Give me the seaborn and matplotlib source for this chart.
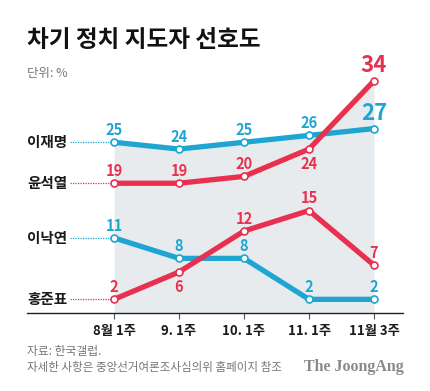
import numpy as np
import pandas as pd
import matplotlib
matplotlib.use("Agg")
import matplotlib.pyplot as plt
import seaborn as sns

# 데이터
weeks = ["8월 1주", "9. 1주", "10. 1주", "11. 1주", "11월 3주"]
names = ["이재명", "윤석열", "이낙연", "홍준표"]
lee_jm = [25, 24, 25, 26, 27]
yoon = [19, 19, 20, 24, 34]
lee_ny = [11, 8, 8, 2, 2]
hong = [2, 6, 12, 15, 7]

BLUE = "#1ea5d2"
RED = "#e8304f"
colors = {"이재명": BLUE, "윤석열": RED, "이낙연": BLUE, "홍준표": RED}
# 값 라벨을 점 아래에 둘 위치 (이름, 주 인덱스)
below = {("윤석열", 3), ("홍준표", 1)}

rows = []
for n, vals in zip(names, [lee_jm, yoon, lee_ny, hong]):
    for i, v in enumerate(vals):
        rows.append({"name": n, "idx": i, "week": weeks[i], "val": v})
df = pd.DataFrame(rows)

sns.set_style("white")
plt.rcParams["font.family"] = ["Noto Sans CJK KR", "DejaVu Sans"]

fig = plt.figure(figsize=(4.30, 3.91), dpi=100)
W, H = 430, 391
ax = fig.add_axes([27 / W, 78 / H, 376 / W, 253 / H])

# 회색 배경: 모든 선의 최대값 아래
xs = np.linspace(0, len(weeks) - 1, 801)
top = np.max([np.interp(xs, df[df.name == n].idx, df[df.name == n].val) for n in names], axis=0)
ax.fill_between(xs, 0, top, color="#e8ebee", lw=0, zorder=0)

for n in names:
    d = df[df.name == n]
    c = colors[n]
    sns.lineplot(data=d, x="idx", y="val", ax=ax, color=c, lw=3.8, marker="o",
                 markersize=5, markerfacecolor="white", markeredgecolor=c,
                 markeredgewidth=1.2, solid_capstyle="butt", zorder=3)
    last = len(d) - 1
    for _, r in d.iterrows():
        big = r.idx == last and n in ("이재명", "윤석열")
        if (n, r.idx) in below:
            ax.annotate(str(r.val), (r.idx, r.val), xytext=(0, -5), textcoords="offset points",
                        ha="center", va="top", color=c, fontsize=10.5, fontweight="bold")
        else:
            ax.annotate(str(r.val), (r.idx, r.val), xytext=(0, 2.5 if big else 3), textcoords="offset points",
                        ha="center", va="bottom", color=c,
                        fontsize=16 if big else 10.5, fontweight="bold")
    # 왼쪽 이름과 점선
    first = d.val.iloc[0]
    ax.text(-1.338, first, n, ha="left", va="center", fontsize=10.5, fontweight="bold", color="#1a1a1a")
    ax.plot([-0.68, -0.04], [first, first], ls=(0, (1, 1)), lw=0.9, color=c, zorder=2)

ax.set_xlim(-1.338, 4.446)
ax.set_ylim(0, 253 / 6.83)
ax.set_xticks(range(len(weeks)))
ax.set_xticklabels(weeks, fontsize=9.5, fontweight="bold", color="#1a1a1a")
ax.set_yticks([])
ax.set_xlabel("")
ax.set_ylabel("")
for s in ["top", "right", "left"]:
    ax.spines[s].set_visible(False)
ax.spines["bottom"].set_color("#222222")
ax.spines["bottom"].set_linewidth(1.0)
ax.tick_params(axis="x", length=4, width=0.8, color="#555555", pad=4, bottom=True)
ax.patch.set_alpha(0)

fig.text(27 / W, 1 - 40 / H, "차기 정치 지도자 선호도", fontsize=17, fontweight="bold",
         color="#111111", va="center", ha="left")
fig.text(27 / W, 1 - 73 / H, "단위: %", fontsize=9, color="#777777", va="center", ha="left")
fig.text(27 / W, 1 - 352 / H, "자료: 한국갤럽.", fontsize=8.5, color="#777777", va="center", ha="left")
fig.text(27 / W, 1 - 367 / H, "자세한 사항은 중앙선거여론조사심의위 홈페이지 참조", fontsize=8.3,
         color="#777777", va="center", ha="left")
fig.text(404 / W, 1 - 367 / H, "The JoongAng", fontsize=11.5, family="Liberation Serif",
         fontweight="bold", color="#8a8a8a", va="center", ha="right")

fig.savefig("out.png", dpi=100)
